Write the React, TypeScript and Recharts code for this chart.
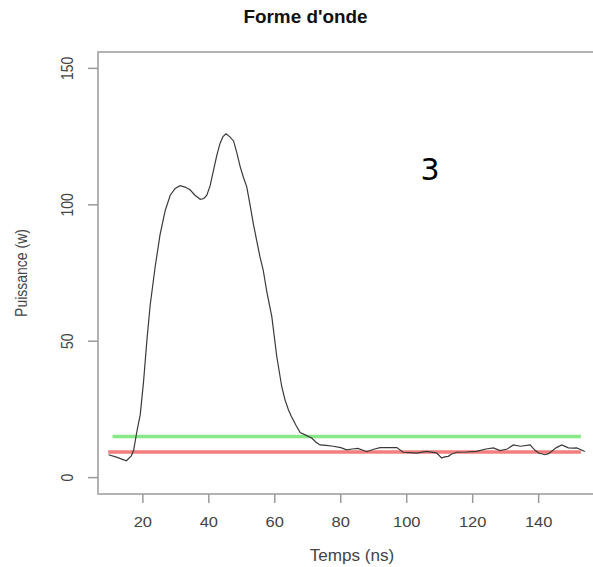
import React from 'react';
import { LineChart, Line, XAxis, YAxis, ReferenceArea, ReferenceDot, Customized } from 'recharts';

const timeNs = [9.6, 12, 15, 16.5, 17.2, 18.2, 19.2, 20.2, 21.2, 22.2, 23.7, 25.2, 26.8, 28.3, 29.8, 31.3, 32.8, 34.3, 35.8, 37.4, 38.5, 39.4, 40.4, 41.4, 42.4, 43.4, 44.3, 45.2, 46.3, 47.5, 48.5, 49.5, 50.5, 51.5, 52.5, 53.5, 54.5, 55.5, 56.5, 57.6, 59.1, 60.6, 62.1, 63.1, 64.1, 65, 66.5, 67.7, 69.5, 71.2, 72.5, 73.7, 75.5, 77.7, 80, 81.8, 83.5, 85.2, 87.9, 90, 91.9, 94.5, 97, 98.9, 101, 103, 106, 109, 110.6, 111.5, 112.6, 113.5, 115.2, 118, 121.2, 124, 126.3, 128.3, 130.5, 132.3, 134.5, 137.4, 138.9, 140, 141.9, 143, 145.4, 147, 149, 150.5, 151.5, 152.5, 154];
const powerW = [8.4, 7.5, 6.2, 8, 10, 17, 23, 35, 50, 63, 77, 89, 98, 103.5, 106, 107, 106.5, 105.5, 103.5, 102, 102.3, 103.5, 107, 112.5, 118, 122.5, 125, 126, 125, 123.4, 119, 114, 110, 106.6, 100, 93, 87, 81, 76, 68, 59, 44.4, 33.4, 28.5, 25, 22.5, 19, 16.5, 15.5, 14.5, 13, 12, 11.8, 11.5, 11, 10.2, 10.5, 10.7, 9.5, 10.4, 11, 11, 11, 9.3, 9.2, 9, 9.6, 9.1, 7.2, 7.6, 7.8, 8.6, 9.3, 9.4, 9.6, 10.5, 10.9, 9.9, 10.5, 12, 11.5, 12, 10, 9, 8.4, 8.8, 11, 12, 10.9, 10.8, 10.9, 10.4, 9.6];

const greenLevel = [{ t: 10.8, v: 15.1 }, { t: 152.8, v: 15.1 }];
const redLevel = [{ t: 9.5, v: 9.4 }, { t: 152.8, v: 9.4 }];

const xTicks = [20, 40, 60, 80, 100, 120, 140];
const yTicks = [0, 50, 100, 150];

const waveform = timeNs.map((t, i) => ({ t, v: powerW[i] }));

const FONT = 'Liberation Sans, Arial, Helvetica, sans-serif';
const AXIS_GRAY = '#9a9a9a';

const XTick = (props: any) => {
  const { x, payload } = props;
  return (
    <text transform={`translate(${x},527) scale(1.1,1)`} textAnchor="middle" fontFamily={FONT} fontSize={15} fill="#444">
      {payload.value}
    </text>
  );
};

const YTick = (props: any) => {
  const { y, payload } = props;
  return (
    <text transform={`translate(73,${y}) scale(1.15,1) rotate(-90)`} textAnchor="middle" fontFamily={FONT} fontSize={14} fill="#444">
      {payload.value}
    </text>
  );
};

const Titles = () => (
  <g>
    <text transform="translate(305.5,23) scale(1.08,1)" textAnchor="middle" fontFamily={FONT} fontSize={17.5} fontWeight="bold" fill="#111">
      Forme d'onde
    </text>
    <text transform="translate(352,561) scale(1.07,1)" textAnchor="middle" fontFamily={FONT} fontSize={16} fill="#444">
      Temps (ns)
    </text>
    <text transform="translate(27,273) scale(1.2,1) rotate(-90)" textAnchor="middle" fontFamily={FONT} fontSize={14} fill="#444">
      Puissance (w)
    </text>
  </g>
);

export default function App() {
  return (
    <div style={{ position: 'fixed', left: 0, top: 0, width: 593, height: 567, overflow: 'hidden', background: '#fff' }}>
      <LineChart width={620} height={567} margin={{ top: 52, right: 20, bottom: 0, left: 0 }}>
        <XAxis
          dataKey="t"
          type="number"
          domain={[6.4, 158.6]}
          allowDataOverflow
          ticks={xTicks}
          tick={<XTick />}
          tickSize={9}
          tickLine={{ stroke: AXIS_GRAY, strokeWidth: 1.5 }}
          axisLine={false}
          height={73}
        />
        <YAxis
          dataKey="v"
          type="number"
          domain={[-6, 156]}
          allowDataOverflow
          ticks={yTicks}
          tick={<YTick />}
          tickSize={10}
          tickLine={{ stroke: AXIS_GRAY, strokeWidth: 1.5 }}
          axisLine={false}
          width={98}
        />
        <ReferenceArea x1={6.4} x2={158.6} y1={-6} y2={156} fill="none" fillOpacity={0} stroke="#b3b3b3" strokeWidth={2} ifOverflow="visible" />
        <Line data={greenLevel} dataKey="v" type="linear" stroke="#86e886" strokeWidth={3.5} dot={false} isAnimationActive={false} />
        <Line data={redLevel} dataKey="v" type="linear" stroke="#f27e7e" strokeWidth={3.5} dot={false} isAnimationActive={false} />
        <Line data={waveform} dataKey="v" type="linear" stroke="#3a3a3a" strokeWidth={1.2} dot={false} isAnimationActive={false} />
        <ReferenceDot
          x={107.1}
          y={112.9}
          r={0}
          fill="none"
          stroke="none"
          ifOverflow="visible"
          label={{ value: '3', position: 'center', fontFamily: 'DejaVu Sans, sans-serif', fontSize: 30, fill: '#000' }}
        />
        <Customized component={Titles} />
      </LineChart>
    </div>
  );
}
